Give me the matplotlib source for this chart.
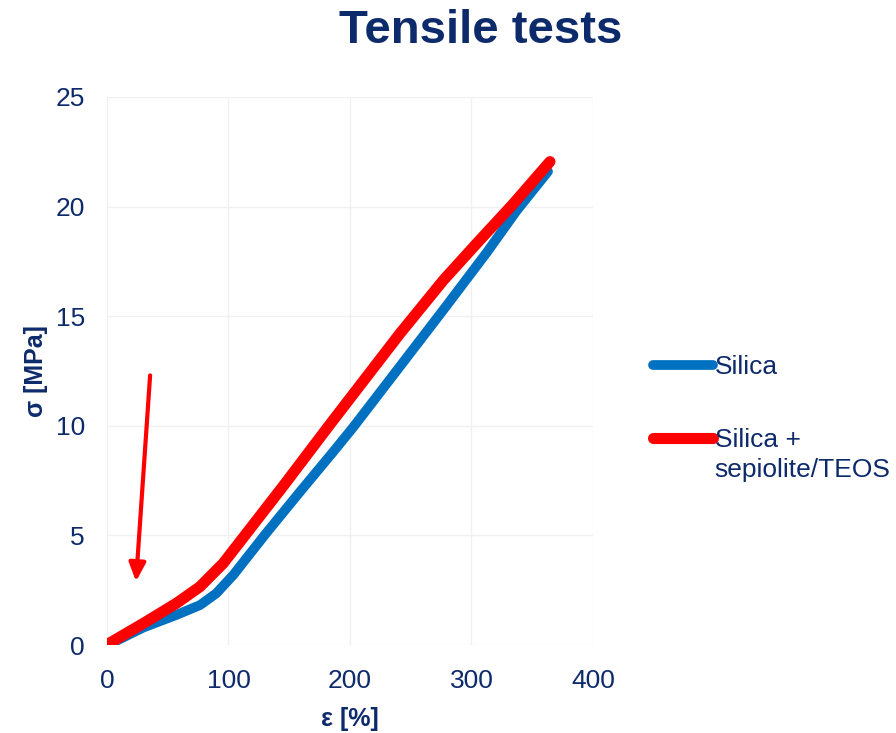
import matplotlib.pyplot as plt

# tensile curves
strain_silica = [0, 2.5, 30, 57, 76.5, 90, 104, 131, 159, 186, 203, 241, 277, 312.5, 337, 363]
stress_silica = [0, 0.05, 0.8, 1.37, 1.82, 2.36, 3.2, 5.1, 7.0, 8.8, 9.96, 12.7, 15.3, 17.9, 19.8, 21.6]

strain_sep = [0, 2.5, 30, 57, 76.5, 95.7, 117.7, 145, 184, 241, 277, 304, 334, 364.6]
stress_sep = [0.05, 0.1, 0.99, 1.9, 2.66, 3.73, 5.3, 7.25, 10.1, 14.2, 16.65, 18.3, 20.1, 22.05]

labels = ["Silica", "Silica +", "sepiolite/TEOS"]
navy = "#0d2a6b"

plt.rcParams["font.family"] = ["Liberation Sans", "DejaVu Sans"]

fig = plt.figure(figsize=(8.96, 7.33), dpi=100)
ax = fig.add_axes([0.1194, 0.12, 0.5424, 0.7477])

l1, = ax.plot(strain_silica, stress_silica, color="#0070c0", lw=7, solid_capstyle="round",
              solid_joinstyle="round")
l2, = ax.plot(strain_sep, stress_sep, color="#ff0000", lw=8, solid_capstyle="round",
              solid_joinstyle="round")

# arrow pointing at the start of the curves
ax.annotate("", xy=(23.9, 2.9), xytext=(35.5, 12.3),
            arrowprops=dict(arrowstyle="-|>,head_length=1.1,head_width=0.5",
                            color="#ff0000", lw=3, shrinkA=0, shrinkB=0))

ax.set_xlim(0, 400)
ax.set_ylim(0, 25)
ax.set_xticks([0, 100, 200, 300, 400])
ax.set_yticks([0, 5, 10, 15, 20, 25])
ax.grid(color="#f0f0f0", lw=1)
ax.set_axisbelow(True)
for s in ax.spines.values():
    s.set_visible(False)
ax.tick_params(length=0, labelsize=19, colors=navy)
ax.tick_params(axis="x", pad=17)
ax.tick_params(axis="y", pad=16)

ax.set_xlabel("ε [%]", fontsize=18, fontweight="bold", color=navy, labelpad=10)
ax.set_ylabel("σ [MPa]", fontsize=18, fontweight="bold", color=navy, labelpad=5)

fig.text(0.536, 0.958, "Tensile tests", ha="center", va="center",
         fontsize=34, fontweight="bold", color=navy)

leg = fig.legend([l1, l2], labels[:2], loc="upper left", bbox_to_anchor=(0.729, 0.5155),
                 frameon=False, fontsize=19, handlelength=2.25, handletextpad=0.1,
                 labelspacing=1.85, borderpad=0, borderaxespad=0, labelcolor=navy)
# second line of the red entry's label
fig.text(0.797, 0.3588, labels[2], ha="left", va="center", fontsize=19, color=navy)

fig.savefig("out.png", dpi=100)
